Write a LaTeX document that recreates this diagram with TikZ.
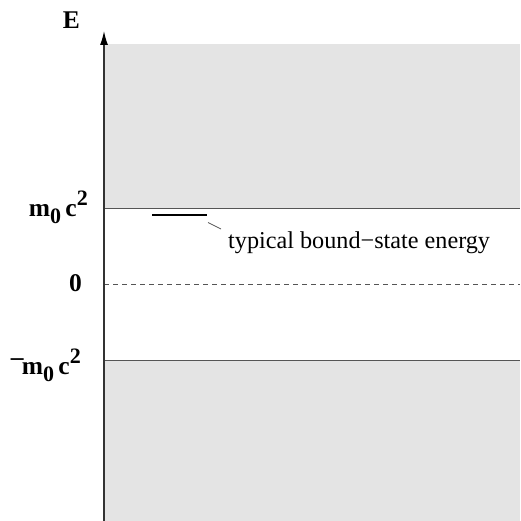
\documentclass[tikz,border=0pt]{standalone}
\usepackage{fontspec}
\setmainfont{Liberation Serif}
\usetikzlibrary{arrows.meta}
\definecolor{band}{HTML}{E4E4E4}
\definecolor{edge}{HTML}{555555}
\definecolor{ink}{HTML}{000000}
\tikzset{level/.style={draw=edge,line width=1pt},
  lbl/.style={inner sep=0pt,font=\fontsize{25.5}{26}\selectfont\bfseries,text=ink},
  txt/.style={inner sep=0pt,font=\fontsize{24.2}{26}\selectfont,text=ink}}
\newcommand{\sml}[1]{{\fontsize{22}{22}\selectfont #1}}
\newcommand{\restmass}{m\raisebox{-7pt}{\sml{0}}\,c\raisebox{11pt}{\sml{2}}}

\begin{document}
\begin{tikzpicture}[x=1pt,y=-1pt]
    \useasboundingbox (0,0) rectangle (520,521);
    % continua
    \fill[band] (105,44) rectangle (520,208);
    \fill[band] (105,360) rectangle (520,521);
    \draw[level] (104,208) -- (520,208);
    \draw[level] (104,360) -- (520,360);
    \draw[edge,line width=0.8pt,dash pattern=on 4.5pt off 4.5pt] (104,284.5) -- (520,284.5);
    % energy axis
    \draw[edge!60!black,line width=1.3pt,-{Latex[length=14pt,width=8pt,color=ink]}] (104,521) -- (104,31);
    \node[lbl,anchor=base] (E) at (71.5,29) {E};
    \node[lbl,anchor=base east] (mc) at (88,216) {\restmass};
    \node[lbl,anchor=base east] (zero) at (82,291) {0};
    \node[lbl,anchor=base east] (negmc) at (81,374) {\raisebox{0.33em}{\textendash}\kern-0.06em\restmass};
    % bound state
    \coordinate (lvlL) at (152,215);
    \coordinate (lvlR) at (207,215);
    \draw[ink,line width=1.3pt] (lvlL) -- (lvlR);
    \node[txt,anchor=base west] (bse) at (228,248) {typical bound\symbol{"2212}state energy};
    \coordinate (tickA) at (208,222.5);
    \coordinate (tickB) at (221,229);
    \draw[edge,line width=0.8pt] (tickA) -- (tickB);
\end{tikzpicture}
\end{document}
